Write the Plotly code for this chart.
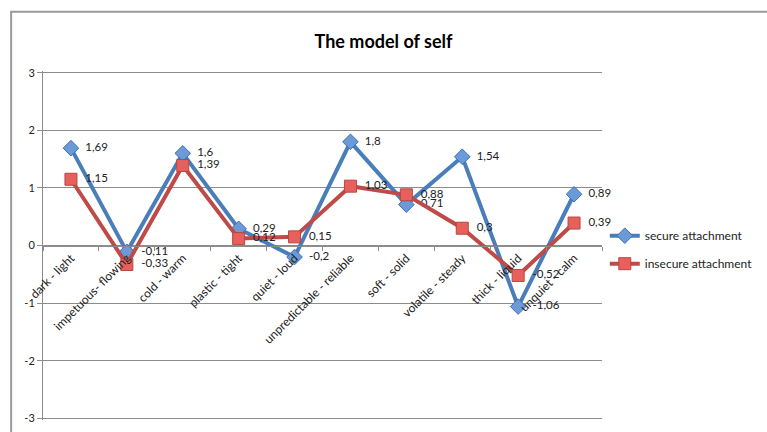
import plotly.graph_objects as go

categories = ["dark - light", "impetuous- flowing", "cold - warm", "plastic - tight",
              "quiet - loud", "unpredictable - reliable", "soft - solid",
              "volatile - steady", "thick - liquid", "unquiet - calm"]
secure = [1.69, -0.11, 1.6, 0.29, -0.2, 1.8, 0.71, 1.54, -1.06, 0.89]
insecure = [1.15, -0.33, 1.39, 0.12, 0.15, 1.03, 0.88, 0.3, -0.52, 0.39]
y_ticks = [-3, -2, -1, 0, 1, 2, 3]


def fmt(v):
    return "\u00a0\u00a0" + ("%g" % v).replace(".", ",")


FONT = "Lato, 'Open Sans', sans-serif"

fig = go.Figure()
fig.add_trace(go.Scatter(
    x=categories, y=secure, name="secure attachment", legendgroup="a",
    mode="lines+markers+text",
    text=[fmt(v) for v in secure], textposition="middle right",
    textfont=dict(size=11.5, color="#222222", family=FONT),
    line=dict(color="#4A7EBB", width=4),
    marker=dict(symbol="diamond", size=12, color="#6A9BD8",
                line=dict(color="#3F6FAF", width=1)),
    cliponaxis=False,
))
fig.add_trace(go.Scatter(
    x=categories, y=insecure, name="insecure attachment", legendgroup="b",
    mode="lines+markers+text",
    text=[fmt(v) for v in insecure], textposition="middle right",
    textfont=dict(size=11.5, color="#222222", family=FONT),
    line=dict(color="#BE4B48", width=4),
    marker=dict(symbol="square", size=12, color="#E8605B",
                line=dict(color="#B94642", width=1)),
    cliponaxis=False,
))

fig.update_layout(
    width=767, height=432,
    margin=dict(l=43, r=165, t=71, b=8),
    paper_bgcolor="white", plot_bgcolor="white",
    font=dict(family=FONT, color="#222222", size=11),
    title=dict(text="<b>The model of self</b>", x=0.5, xref="container",
               y=0.903, yref="container", yanchor="middle",
               font=dict(size=18, color="black", family=FONT)),
    showlegend=True,
    legend=dict(x=1.005, y=0.488, xanchor="left", yanchor="middle",
                font=dict(size=12, color="#222222"),
                bgcolor="rgba(0,0,0,0)", itemwidth=30, tracegroupgap=9),
    xaxis=dict(type="category", anchor="free", position=0.5,
               showline=True, linecolor="#8C8C8C", linewidth=1,
               ticks="outside", ticklen=4, tickcolor="#8C8C8C",
               tickson="boundaries", tickangle=-45,
               tickfont=dict(size=12, color="#222222"),
               showgrid=False, range=[-0.5, 9.5]),
    yaxis=dict(range=[-3.03, 3.03], tickvals=y_ticks, ticktext=[str(v) for v in y_ticks],
               showline=True, linecolor="#8C8C8C", linewidth=1,
               ticks="outside", ticklen=5, tickcolor="#8C8C8C",
               showgrid=True, gridcolor="#8C8C8C", gridwidth=1,
               zeroline=False, tickfont=dict(size=11, color="#222222")),
    shapes=[dict(type="rect", xref="paper", yref="paper",
                 x0=-0.057, x1=1.6, y0=-0.5, y1=1.17,
                 line=dict(color="#9A9A9A", width=2), layer="below")],
)

fig.write_html("out.html", config={"displayModeBar": False},
               post_script="document.body.style.margin='0';")
